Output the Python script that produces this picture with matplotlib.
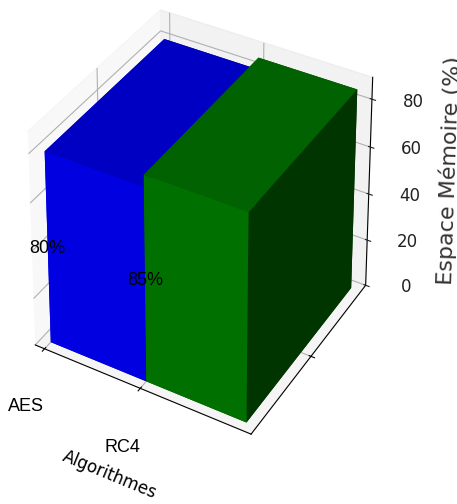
import matplotlib
matplotlib.use('Agg')
import matplotlib.pyplot as plt
import numpy as np

algos = ['AES', 'RC4']
memoire = [80, 85]
colors = ['blue', 'green']

fig = plt.figure(figsize=(4.57, 5.04), dpi=100)
ax = fig.add_subplot(111, projection='3d')
ax.view_init(elev=29, azim=-60)

# the reference is stretched vertically, so let the 3d box fill a non square area
rect = [0.014, 0.072, 0.84, 0.99]
ax.apply_aspect = lambda position=None: ax._set_position(rect, which='active')

x = np.arange(len(algos))
y = np.zeros(len(algos))
z = np.zeros(len(algos))
ax.bar3d(x, y, z, 1, 1, memoire, color=colors)

for i in range(len(algos)):
    ax.text(x[i], y[i], memoire[i] / 2, str(memoire[i]) + '%', color='black',
            ha='center', va='center', fontsize=13, family=['Liberation Sans Narrow', 'Liberation Sans'])

ax.set_xlim(-0.1, 2.1)
ax.set_ylim(-0.05, 1.05)
ax.set_zlim(0, 89)
ax.set_xticks(x)
ax.set_xticklabels(algos, fontsize=13, family=['Liberation Sans Narrow', 'Liberation Sans'])
ax.set_yticks([0.5])
ax.set_yticklabels([])
ax.set_zticks([0, 20, 40, 60, 80])
ax.tick_params(axis='z', labelsize=12, pad=13, colors='#222222')
ax.tick_params(axis='x', pad=15)
ax.set_xlabel('Algorithmes', fontsize=12, labelpad=18, rotation=-20)
ax.set_zlabel('Espace Mémoire (%)', fontsize=16, labelpad=20, rotation=90, color='#333333')
ax.zaxis.offsetText.set_visible(False)

plt.savefig('out.png', dpi=100)
